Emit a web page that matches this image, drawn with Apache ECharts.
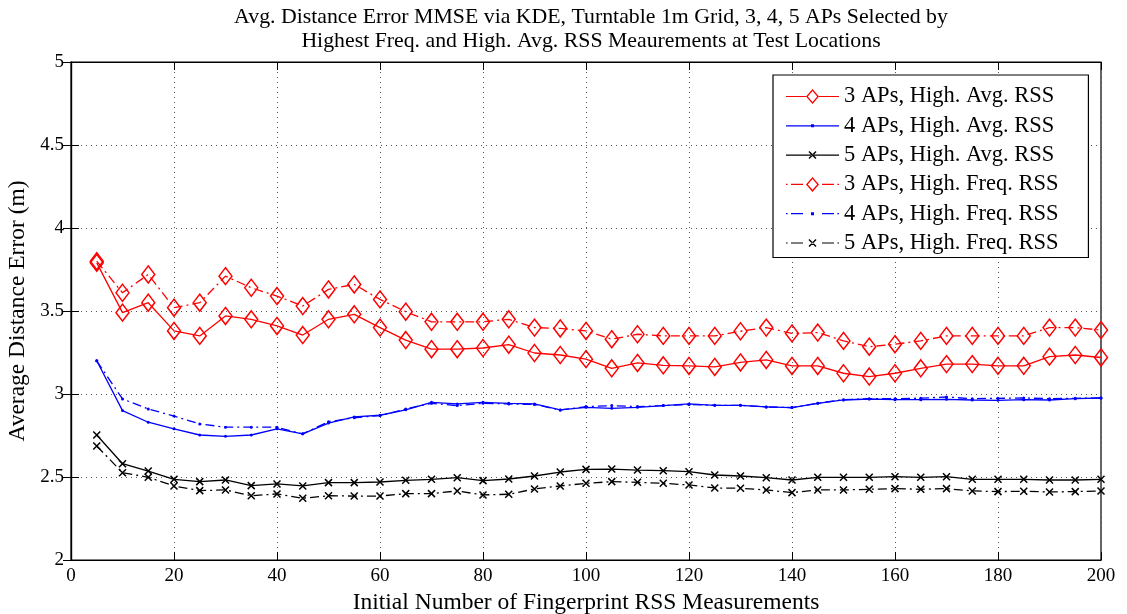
<!DOCTYPE html>
<html>
<head>
<meta charset="utf-8">
<script src="https://cdn.jsdelivr.net/npm/echarts@6/dist/echarts.min.js"></script>
<style>
html,body{margin:0;padding:0;background:#fff;}
#chart{width:1127px;height:614px;}
</style>
</head>
<body>
<div id="chart"></div>
<script>
const xValues = [5,10,15,20,25,30,35,40,45,50,55,60,65,70,75,80,85,90,95,100,105,110,115,120,125,130,135,140,145,150,155,160,165,170,175,180,185,190,195,200];

const ap3Avg = [3.79,3.49,3.55,3.38,3.35,3.47,3.45,3.41,3.355,3.45,3.48,3.40,3.325,3.27,3.27,3.277,3.297,3.247,3.235,3.21,3.155,3.187,3.173,3.169,3.163,3.19,3.205,3.169,3.169,3.125,3.105,3.125,3.155,3.18,3.18,3.17,3.17,3.225,3.235,3.22];
const ap4Avg = [3.20,2.90,2.83,2.79,2.753,2.745,2.753,2.79,2.76,2.825,2.862,2.872,2.905,2.95,2.94,2.95,2.944,2.94,2.904,2.92,2.914,2.92,2.93,2.94,2.932,2.932,2.922,2.918,2.944,2.964,2.97,2.966,2.966,2.968,2.964,2.962,2.966,2.964,2.972,2.976];
const ap5Avg = [2.753,2.58,2.536,2.486,2.472,2.482,2.448,2.458,2.446,2.466,2.466,2.47,2.48,2.486,2.496,2.478,2.488,2.506,2.53,2.546,2.548,2.542,2.538,2.532,2.512,2.506,2.496,2.482,2.498,2.498,2.498,2.502,2.498,2.502,2.486,2.486,2.486,2.482,2.482,2.486];
const ap3Freq = [3.80,3.61,3.72,3.52,3.55,3.71,3.64,3.59,3.53,3.63,3.66,3.57,3.496,3.435,3.435,3.435,3.45,3.40,3.395,3.38,3.33,3.36,3.35,3.35,3.35,3.378,3.40,3.365,3.37,3.32,3.285,3.30,3.32,3.35,3.35,3.35,3.35,3.40,3.40,3.385];
const ap4Freq = [3.20,2.97,2.91,2.867,2.82,2.80,2.80,2.80,2.76,2.833,2.857,2.87,2.91,2.944,2.93,2.944,2.94,2.937,2.904,2.924,2.93,2.924,2.93,2.937,2.932,2.932,2.922,2.918,2.944,2.966,2.972,2.972,2.975,2.982,2.972,2.974,2.976,2.972,2.974,2.976];
const ap5Freq = [2.687,2.526,2.498,2.446,2.418,2.422,2.387,2.398,2.372,2.387,2.385,2.385,2.40,2.40,2.416,2.392,2.396,2.428,2.446,2.462,2.472,2.468,2.462,2.452,2.434,2.432,2.422,2.406,2.422,2.422,2.426,2.43,2.426,2.43,2.416,2.412,2.414,2.41,2.412,2.416];

const seriesNames = [
  '3 APs, High. Avg. RSS',
  '4 APs, High. Avg. RSS',
  '5 APs, High. Avg. RSS',
  '3 APs, High. Freq. RSS',
  '4 APs, High. Freq. RSS',
  '5 APs, High. Freq. RSS'
];

const FONT = '"Liberation Serif", "DejaVu Serif", serif';
const RED = '#ff0000', BLUE = '#0000ff', BLACK = '#000000';
const DASHDOT = [9,4,2,4];
const CROSS = 'path://M0,0L10,10M10,0L0,10';

function pairs(vals){ return xValues.map((x,i)=>[x, vals[i]]); }

// ---- legend icon paths (53 wide, 16 high box) ----
function rect(x0,x1,y0,y1){ return 'M'+x0+','+y0+'L'+x1+','+y0+'L'+x1+','+y1+'L'+x0+','+y1+'Z'; }
const LY0 = 7.4, LY1 = 8.6;
function lineSolid(gapL, gapR){
  if (gapL == null) return rect(0,53,LY0,LY1);
  return rect(0,gapL,LY0,LY1) + rect(gapR,53,LY0,LY1);
}
function lineDashDot(){
  return rect(0,1.6,LY0,LY1) + rect(5,17,LY0,LY1) + rect(36,48,LY0,LY1) + rect(51.4,53,LY0,LY1);
}
const DIAMOND_ICON = 'M26.5,0.5L33,8L26.5,15.5L20,8Z' + 'M26.5,2.6L21.8,8L26.5,13.4L31.2,8Z';
const DOT_ICON = rect(25,28,6.5,9.5);
const CROSS_ICON = 'M22.5,5L23.5,4L30.5,11L29.5,12Z' + 'M23.5,12L30.5,5L29.5,4L22.5,11Z';
const legendIcons = [
  'path://' + lineSolid(20,33) + DIAMOND_ICON,
  'path://' + lineSolid() + DOT_ICON,
  'path://' + lineSolid() + CROSS_ICON,
  'path://' + lineDashDot() + DIAMOND_ICON,
  'path://' + lineDashDot() + DOT_ICON,
  'path://' + lineDashDot() + CROSS_ICON
];
const legendColors = [RED, BLUE, BLACK, RED, BLUE, BLACK];

function mk(name, vals, color, dashed, marker){
  const s = {
    name: name,
    type: 'line',
    data: pairs(vals),
    xAxisIndex: 0, yAxisIndex: 0,
    lineStyle: {color: color, width: 1.3, type: dashed ? DASHDOT : 'solid'},
    animation: false,
    z: 3
  };
  if (marker === 'diamond') {
    s.symbol = 'diamond';
    s.symbolSize = [13, 17];
    s.itemStyle = {color: 'rgba(255,255,255,0)', borderColor: color, borderWidth: 1.5};
  } else if (marker === 'dot') {
    s.symbol = 'circle';
    s.symbolSize = 3;
    s.itemStyle = {color: color, borderColor: color, borderWidth: 0};
  } else {
    s.symbol = CROSS;
    s.symbolSize = 7;
    s.itemStyle = {color: 'rgba(0,0,0,0)', borderColor: color, borderWidth: 1.5};
  }
  return s;
}

const chart = echarts.init(document.getElementById('chart'), null, {renderer: 'canvas'});
chart.setOption({
  backgroundColor: '#ffffff',
  animation: false,
  title: {
    text: 'Avg. Distance Error MMSE via KDE, Turntable 1m Grid, 3, 4, 5 APs Selected by\nHighest Freq. and High. Avg. RSS Meaurements at Test Locations',
    left: 586, top: 0, textAlign: 'center',
    textStyle: {fontFamily: FONT, fontSize: 21.8, fontWeight: 'normal', color: '#000', lineHeight: 24}
  },
  legend: {
    orient: 'vertical',
    left: 773, top: 75,
    padding: [10, 30, 3, 13],
    backgroundColor: '#ffffff',
    borderColor: '#000', borderWidth: 1.2,
    itemWidth: 53, itemHeight: 16, itemGap: 6.3,
    symbolKeepAspect: true,
    textStyle: {fontFamily: FONT, fontSize: 22.5, color: '#000'},
    data: seriesNames.map((n, i) => ({
      name: n,
      icon: legendIcons[i],
      itemStyle: {color: legendColors[i], borderWidth: 0, opacity: 1}
    }))
  },
  grid: {left: 71, right: 26, top: 62, bottom: 54, show: true, containLabel: false, outerBoundsMode: 'none',
    borderColor: '#000', borderWidth: 1.2, backgroundColor: 'transparent'},
  xAxis: [{
    type: 'value', position: 'bottom', min: 0, max: 200, interval: 20,
    name: 'Initial Number of Fingerprint RSS Measurements', nameLocation: 'middle', nameGap: 28,
    nameTextStyle: {fontFamily: FONT, fontSize: 23.5, color: '#000'},
    axisLine: {show: true, lineStyle: {color: '#000', width: 1.2}},
    axisTick: {show: true, inside: true, length: 8, lineStyle: {color: '#000'}},
    axisLabel: {fontFamily: FONT, fontSize: 19, color: '#000', margin: 7},
    splitLine: {show: true, lineStyle: {color: '#555', type: [1, 4], width: 1}}
  }, {
    type: 'value', position: 'top', min: 0, max: 200, interval: 20,
    axisLine: {show: true, lineStyle: {color: '#000', width: 1.2}},
    axisTick: {show: true, inside: true, length: 8, lineStyle: {color: '#000'}},
    axisLabel: {show: false}, splitLine: {show: false}
  }],
  yAxis: [{
    type: 'value', position: 'left', min: 2, max: 5, interval: 0.5,
    name: 'Average Distance Error (m)', nameLocation: 'middle', nameGap: 40,
    nameTextStyle: {fontFamily: FONT, fontSize: 23.5, color: '#000'},
    axisLine: {show: true, lineStyle: {color: '#000', width: 1.2}},
    axisTick: {show: true, inside: true, length: 8, lineStyle: {color: '#000'}},
    axisLabel: {fontFamily: FONT, fontSize: 19, color: '#000', margin: 7,
      formatter: v => String(v)},
    splitLine: {show: true, lineStyle: {color: '#555', type: [1, 4], width: 1}}
  }, {
    type: 'value', position: 'right', min: 2, max: 5, interval: 0.5,
    axisLine: {show: true, lineStyle: {color: '#000', width: 1.2}},
    axisTick: {show: true, inside: true, length: 8, lineStyle: {color: '#000'}},
    axisLabel: {show: false}, splitLine: {show: false}
  }],
  series: [
    mk(seriesNames[0], ap3Avg, RED, false, 'diamond'),
    mk(seriesNames[1], ap4Avg, BLUE, false, 'dot'),
    mk(seriesNames[2], ap5Avg, BLACK, false, 'cross'),
    mk(seriesNames[3], ap3Freq, RED, true, 'diamond'),
    mk(seriesNames[4], ap4Freq, BLUE, true, 'dot'),
    mk(seriesNames[5], ap5Freq, BLACK, true, 'cross')
  ]
});
</script>
</body>
</html>
